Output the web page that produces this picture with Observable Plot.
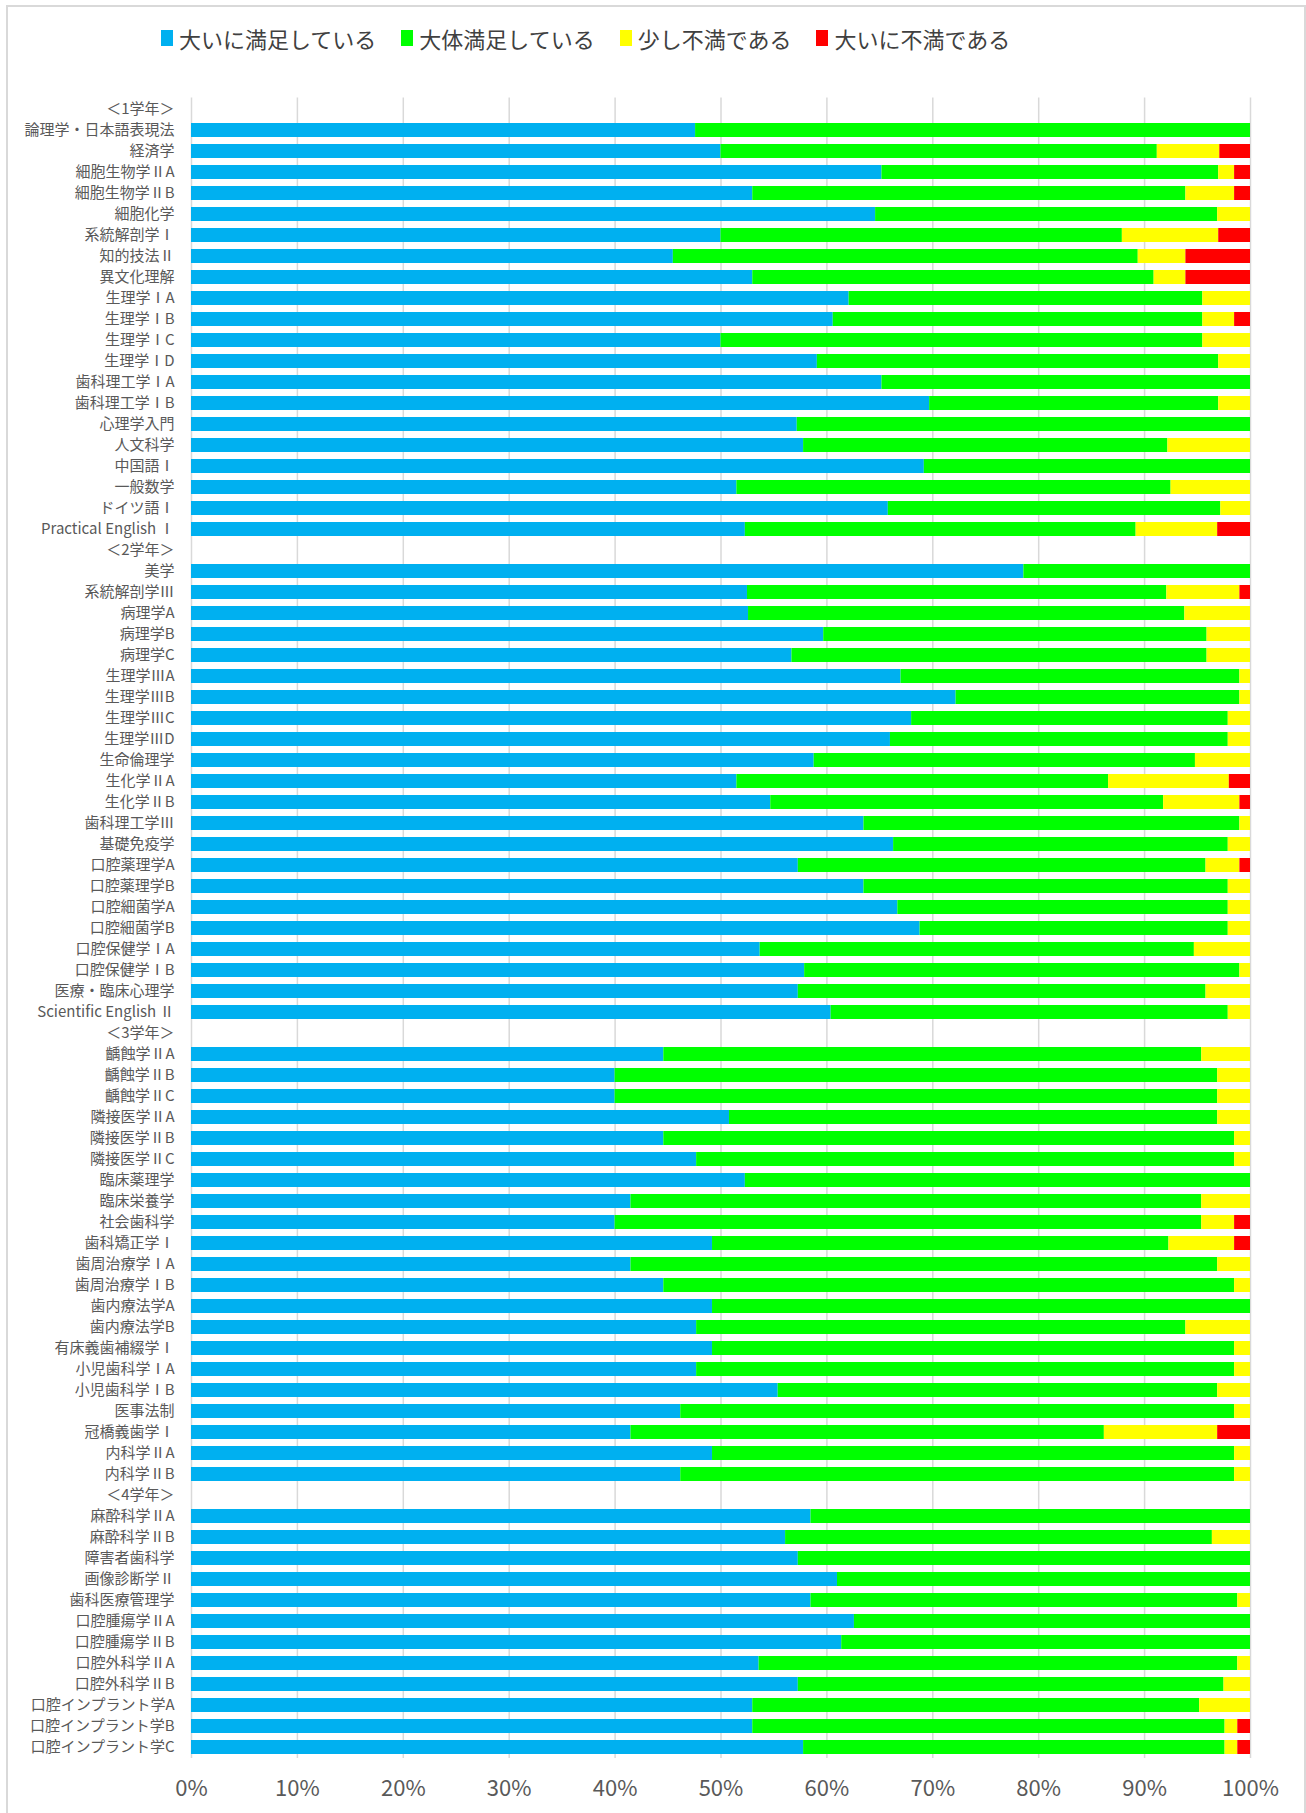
<!DOCTYPE html>
<html><head><meta charset="utf-8">
<script src="https://cdn.jsdelivr.net/npm/d3@7"></script>
<script src="https://cdn.jsdelivr.net/npm/@observablehq/plot@0.6"></script>
<style>
body{margin:0;background:#fff;font-family:"Noto Sans CJK JP",sans-serif;}
#frame{position:absolute;left:6px;top:5px;width:1300px;height:1815px;border:2px solid #d9d9d9;box-sizing:border-box;}
#legend{position:absolute;left:161px;top:24px;display:flex;align-items:center;font-size:22px;color:#404040;line-height:28px;white-space:nowrap;}
.item{display:flex;align-items:center;margin-right:25px;}
.sw{width:12px;height:16px;margin-right:6px;}
#chart{position:absolute;left:0;top:60px;}
</style></head>
<body>
<div id="frame"></div>
<div id="legend"></div>
<div id="chart"></div>
<script>
const seriesNames = ["大いに満足している", "大体満足している", "少し不満である", "大いに不満である"];
const seriesColors = ["#00B0F0", "#00FF00", "#FFFF00", "#FF0000"];
const xTicks = [0, 10, 20, 30, 40, 50, 60, 70, 80, 90, 100];

const categories = [
  "＜1学年＞",
  "論理学・日本語表現法","経済学","細胞生物学ⅡA","細胞生物学ⅡB","細胞化学","系統解剖学Ⅰ","知的技法Ⅱ","異文化理解",
  "生理学ⅠA","生理学ⅠB","生理学ⅠC","生理学ⅠD","歯科理工学ⅠA","歯科理工学ⅠB","心理学入門","人文科学","中国語Ⅰ",
  "一般数学","ドイツ語Ⅰ","Practical English Ⅰ",
  "＜2学年＞",
  "美学","系統解剖学Ⅲ","病理学A","病理学B","病理学C","生理学ⅢA","生理学ⅢB","生理学ⅢC","生理学ⅢD","生命倫理学",
  "生化学ⅡA","生化学ⅡB","歯科理工学Ⅲ","基礎免疫学","口腔薬理学A","口腔薬理学B","口腔細菌学A","口腔細菌学B",
  "口腔保健学ⅠA","口腔保健学ⅠB","医療・臨床心理学","Scientific English Ⅱ",
  "＜3学年＞",
  "齲蝕学ⅡA","齲蝕学ⅡB","齲蝕学ⅡC","隣接医学ⅡA","隣接医学ⅡB","隣接医学ⅡC","臨床薬理学","臨床栄養学","社会歯科学",
  "歯科矯正学Ⅰ","歯周治療学ⅠA","歯周治療学ⅠB","歯内療法学A","歯内療法学B","有床義歯補綴学Ⅰ","小児歯科学ⅠA","小児歯科学ⅠB",
  "医事法制","冠橋義歯学Ⅰ","内科学ⅡA","内科学ⅡB",
  "＜4学年＞",
  "麻酔科学ⅡA","麻酔科学ⅡB","障害者歯科学","画像診断学Ⅱ","歯科医療管理学","口腔腫瘍学ⅡA","口腔腫瘍学ⅡB","口腔外科学ⅡA",
  "口腔外科学ⅡB","口腔インプラント学A","口腔インプラント学B","口腔インプラント学C"
];

const verySatisfied = [
  null,
  47.6,50.0,65.2,53.0,64.6,50.0,45.5,53.0,62.1,60.6,50.0,59.1,65.2,69.7,57.2,57.8,69.2,51.5,65.8,52.3,
  null,
  78.6,52.5,52.6,59.7,56.7,67.0,72.2,68.0,66.0,58.8,51.5,54.7,63.5,66.3,57.3,63.5,66.7,68.8,53.7,57.9,57.3,60.4,
  null,
  44.6,40.0,40.0,50.8,44.6,47.7,52.3,41.5,40.0,49.2,41.5,44.6,49.2,47.7,49.2,47.7,55.4,46.2,41.5,49.2,46.2,
  null,
  58.5,56.1,57.3,61.0,58.5,62.6,61.4,53.6,57.3,53.0,53.0,57.8
];
const mostlySatisfied = [
  null,
  52.4,41.2,31.8,40.9,32.3,37.9,43.9,37.9,33.4,34.9,45.5,37.9,34.8,27.3,42.8,34.4,30.8,41.0,31.4,36.9,
  null,
  21.4,39.6,41.2,36.2,39.2,32.0,26.8,29.9,31.9,36.0,35.1,37.1,35.5,31.6,38.5,34.4,31.2,29.1,41.0,41.1,38.5,37.5,
  null,
  50.8,56.9,56.9,46.1,53.9,50.8,47.7,53.9,55.4,43.1,55.4,53.9,50.8,46.2,49.3,50.8,41.5,52.3,44.7,49.3,52.3,
  null,
  41.5,40.3,42.7,39.0,40.3,37.4,38.6,45.2,40.2,42.2,44.6,39.8
];
const slightlyDissatisfied = [
  null,
  0,5.9,1.5,4.6,3.1,9.1,4.5,3.0,4.5,3.0,4.5,3.0,0,3.0,0,7.8,0,7.5,2.8,7.7,
  null,
  0,6.9,6.2,4.1,4.1,1.0,1.0,2.1,2.1,5.2,11.4,7.2,1.0,2.1,3.2,2.1,2.1,2.1,5.3,1.0,4.2,2.1,
  null,
  4.6,3.1,3.1,3.1,1.5,1.5,0,4.6,3.1,6.2,3.1,1.5,0,6.1,1.5,1.5,3.1,1.5,10.7,1.5,1.5,
  null,
  0,3.6,0,0,1.2,0,0,1.2,2.5,4.8,1.2,1.2
];
const veryDissatisfied = [
  null,
  0,2.9,1.5,1.5,0,3.0,6.1,6.1,0,1.5,0,0,0,0,0,0,0,0,0,3.1,
  null,
  0,1.0,0,0,0,0,0,0,0,0,2.0,1.0,0,0,1.0,0,0,0,0,0,0,0,
  null,
  0,0,0,0,0,0,0,0,1.5,1.5,0,0,0,0,0,0,0,0,3.1,0,0,
  null,
  0,0,0,0,0,0,0,0,0,0,1.2,1.2
];

const seriesValues = [verySatisfied, mostlySatisfied, slightlyDissatisfied, veryDissatisfied];
const rows = [];
categories.forEach((c, i) => {
  if (verySatisfied[i] == null) return;
  seriesNames.forEach((s, k) => rows.push({category: c, series: s, value: seriesValues[k][i]}));
});

// legend
const legend = d3.select("#legend");
seriesNames.forEach((s, k) => {
  const it = legend.append("div").attr("class", "item");
  it.append("div").attr("class", "sw").style("background", seriesColors[k]);
  it.append("span").text(s);
});

const chart = Plot.plot({
  width: 1306,
  height: 1753,
  marginLeft: 191,
  marginRight: 56,
  marginTop: 37.5,
  marginBottom: 55,
  x: {domain: [0, 100], label: null},
  y: {domain: categories, paddingInner: 0.35, paddingOuter: 0.175, label: null},
  color: {domain: seriesNames, range: seriesColors},
  style: {fontFamily: '"Noto Sans CJK JP", sans-serif', background: "transparent"},
  marks: [
    Plot.gridX(xTicks, {stroke: "#d9d9d9", strokeOpacity: 1, strokeWidth: 1.5}),
    Plot.barX(rows, Plot.stackX({x: "value", y: "category", fill: "series"})),
    Plot.axisX(xTicks, {tickSize: 0, tickPadding: 22, tickFormat: d => d + "%", fontSize: 22, fill: "#595959", label: null}),
    Plot.axisY({tickSize: 0, tickPadding: 17, fontSize: 15, fill: "#595959", label: null})
  ]
});
document.getElementById("chart").appendChild(chart);
</script>
</body></html>
